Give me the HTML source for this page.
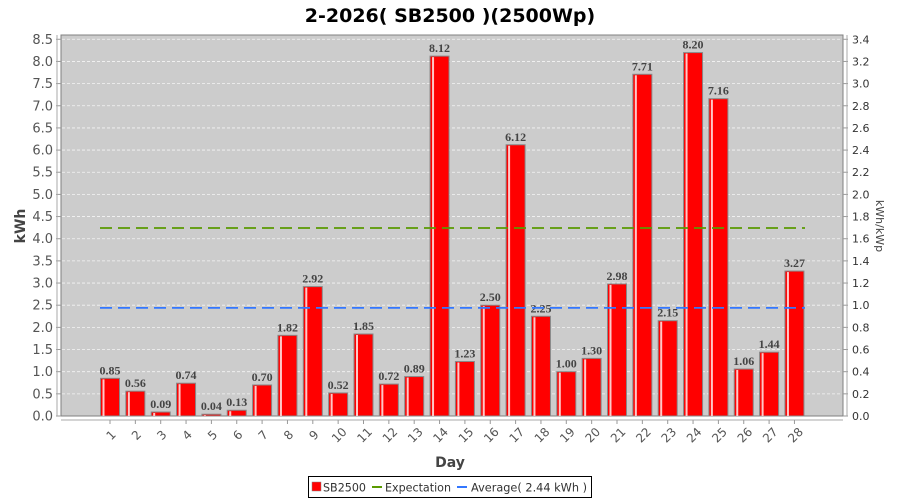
<!DOCTYPE html>
<html><head><meta charset="utf-8"><style>
html,body{margin:0;padding:0;background:#fff;width:900px;height:500px;overflow:hidden}
text{font-family:"DejaVu Sans","Liberation Sans",sans-serif}
</style></head><body>
<svg id="c" width="900" height="500" xmlns="http://www.w3.org/2000/svg">
<text x="450" y="22" text-anchor="middle" font-size="19" font-weight="bold" fill="#000">2-2026( SB2500 )(2500Wp)</text>
<rect x="61" y="35" width="782" height="381" fill="#cccccc" stroke="#808080" stroke-width="1"/>
<g id="g"></g>
<text x="450" y="467" text-anchor="middle" font-size="14" font-weight="bold" fill="#444">Day</text>
<text transform="translate(25,226) rotate(-90)" text-anchor="middle" font-size="14" font-weight="bold" fill="#444">kWh</text>
<text transform="translate(876,226) rotate(90)" text-anchor="middle" font-size="11" fill="#444">kWh/kWp</text>
<rect x="308.5" y="476.5" width="283" height="21" fill="#fff" stroke="#000"/>
<rect x="312" y="482" width="9" height="9" fill="#f00" stroke="#888" stroke-width="0.5"/>
<text x="323" y="491.5" font-size="11.5" fill="#333" textLength="43" lengthAdjust="spacingAndGlyphs">SB2500</text>
<line x1="372" y1="487" x2="382" y2="487" stroke="#5a9a00" stroke-width="2"/>
<text x="385" y="491.5" font-size="11.5" fill="#333" textLength="66" lengthAdjust="spacingAndGlyphs">Expectation</text>
<line x1="457" y1="487" x2="467" y2="487" stroke="#3377ff" stroke-width="2"/>
<text x="471" y="491.5" font-size="11.5" fill="#333" textLength="116" lengthAdjust="spacingAndGlyphs">Average( 2.44 kWh )</text>
</svg>
<script>
var v=[0.85,0.56,0.09,0.74,0.04,0.13,0.70,1.82,2.92,0.52,1.85,0.72,0.89,8.12,1.23,2.50,6.12,2.25,1.00,1.30,2.98,7.71,2.15,8.20,7.16,1.06,1.44,3.27];
var g=document.getElementById('g'),s='';
function Y(x){return 416-x*44.32;}
for(var i=0;i<=17;i++){var val=i*0.5,y=Y(val);
 if(i>0)s+='<line x1="62" x2="842" y1="'+y+'" y2="'+y+'" stroke="#fff" stroke-width="0.8" stroke-dasharray="3,2" opacity="0.8"/>';
 s+='<line x1="56" x2="61" y1="'+y+'" y2="'+y+'" stroke="#999"/>';
 s+='<text x="53" y="'+(y+4.5)+'" text-anchor="end" font-size="13" fill="#555">'+val.toFixed(1)+'</text>';}
for(var i=0;i<=17;i++){var val=i*0.2,y=Y(val*2.5);
 s+='<line x1="843" x2="848" y1="'+y+'" y2="'+y+'" stroke="#999"/>';
 s+='<text x="852" y="'+(y+4)+'" font-size="11" fill="#333">'+val.toFixed(1)+'</text>';}
s+='<line x1="57" x2="57" y1="35" y2="416" stroke="#aaa"/><line x1="847" x2="847" y1="35" y2="416" stroke="#aaa"/>';
s+='<line x1="61" x2="843" y1="420" y2="420" stroke="#aaa"/>';
for(var i=0;i<28;i++){var cx=110+i*25.35,y=Y(v[i]),x=cx-9.5;
 s+='<rect x="'+x+'" y="'+y+'" width="19" height="'+(416-y)+'" fill="#f00" stroke="#888" stroke-width="1"/>';
 s+='<rect x="'+(x+2)+'" y="'+(y+1)+'" width="2" height="'+(415-y)+'" fill="#ffc8c8"/>';
 s+='<text x="'+cx+'" y="'+(y-4)+'" text-anchor="middle" font-size="12" font-weight="bold" fill="#444" style="font-family:\'Liberation Serif\',serif">'+v[i].toFixed(2)+'</text>';
 s+='<line x1="'+cx+'" x2="'+cx+'" y1="420" y2="424" stroke="#999"/>';
 s+='<text transform="translate('+(cx+4)+',438) rotate(-45)" text-anchor="middle" font-size="12" fill="#555">'+(i+1)+'</text>';}
s+='<line x1="100" x2="805" y1="228" y2="228" stroke="#5a9a00" stroke-width="1.8" stroke-dasharray="12,6"/>';
s+='<line x1="100" x2="805" y1="'+Y(2.44)+'" y2="'+Y(2.44)+'" stroke="#3377ff" stroke-width="1.8" stroke-dasharray="12,6"/>';
g.innerHTML=s;
</script>
</body></html>
